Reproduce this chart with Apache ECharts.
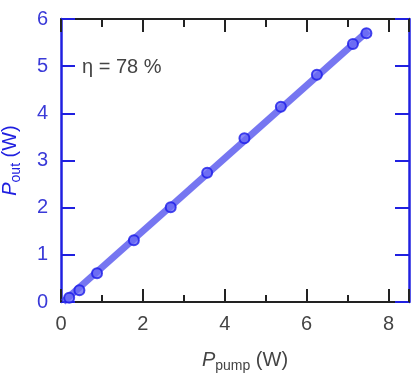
<!DOCTYPE html>
<html>
<head>
<meta charset="utf-8">
<script src="https://cdn.jsdelivr.net/npm/echarts@6/dist/echarts.min.js"></script>
<style>
  html, body { margin: 0; padding: 0; background: #fff; }
  #chart { width: 412px; height: 374px; }
</style>
</head>
<body>
<div id="chart"></div>
<script>
// measured points (pump power vs output power, W)
const pumpPower = [0.20, 0.45, 0.88, 1.78, 2.68, 3.57, 4.48, 5.37, 6.25, 7.13, 7.46];
const outPower = [0.09, 0.25, 0.61, 1.31, 2.01, 2.74, 3.47, 4.14, 4.82, 5.47, 5.70];
// linear fit end points
const fitX = [0.05, 7.5];
const fitY = [0.0, 5.75];
const xTicks = [0, 2, 4, 6, 8];
const yTicks = [0, 1, 2, 3, 4, 5, 6];
const slopeLabel = "η = 78 %";

const BLUE = "#2020e0";
const chart = echarts.init(document.getElementById("chart"));

const pts = pumpPower.map((x, i) => [x, outPower[i]]);
const fit = fitX.map((x, i) => [x, fitY[i]]);

const options = {
  animation: false,
  grid: { left: 61, right: 3, top: 19, bottom: 72, outerBoundsMode: "none", containLabel: false },
  xAxis: [
    {
      type: "value",
      min: 0,
      max: 8.5,
      interval: 2,
      position: "bottom",
      name: "{i|P}{sub|pump} (W)",
      nameLocation: "middle",
      nameGap: 45,
      nameTextStyle: {
        color: "#444",
        fontSize: 20,
        fontFamily: "Liberation Sans",
        padding: [0, 0, 0, 20],
        rich: {
          i: { fontStyle: "italic", fontSize: 20, color: "#444" },
          sub: { fontSize: 14, color: "#444", padding: [12, 0, 0, 0] },
        },
      },
      axisLine: { onZero: false, lineStyle: { color: "#222", width: 2 } },
      axisTick: { inside: true, length: 13, lineStyle: { color: "#222", width: 2 } },
      minorTick: { show: true, splitNumber: 2, length: 7, lineStyle: { color: "#222", width: 2 } },
      splitLine: { show: false },
      axisLabel: {
        color: "#444",
        fontSize: 20,
        fontFamily: "Liberation Sans",
        margin: 12,
        formatter: (v) => (xTicks.includes(v) ? String(v) : ""),
        showMaxLabel: false,
      },
    },
    {
      type: "value",
      min: 0,
      max: 8.5,
      interval: 2,
      position: "top",
      axisLine: { onZero: false, lineStyle: { color: "#222", width: 2 } },
      axisTick: { inside: true, length: 13, lineStyle: { color: "#222", width: 2 } },
      minorTick: { show: true, splitNumber: 2, length: 8, lineStyle: { color: "#222", width: 2 } },
      splitLine: { show: false },
      axisLabel: { show: false },
    },
  ],
  yAxis: [
    {
      type: "value",
      min: 0,
      max: 6,
      interval: 1,
      position: "left",
      name: "{i|P}{sub|out} (W)",
      nameLocation: "middle",
      nameGap: 38,
      nameRotate: 90,
      nameTextStyle: {
        color: BLUE,
        fontSize: 20,
        fontFamily: "Liberation Sans",
        rich: {
          i: { fontStyle: "italic", fontSize: 20, color: BLUE },
          sub: { fontSize: 14, color: BLUE, padding: [12, 0, 0, 0] },
        },
      },
      axisLine: { show: true, onZero: false, lineStyle: { color: BLUE, width: 2.5 } },
      axisTick: { show: true, inside: true, length: 14, lineStyle: { color: BLUE, width: 2 } },
      splitLine: { show: false },
      axisLabel: {
        color: "#3a3ad8",
        fontSize: 20,
        fontFamily: "Liberation Sans",
        margin: 13,
        formatter: (v) => (yTicks.includes(v) ? String(v) : ""),
      },
    },
    {
      type: "value",
      min: 0,
      max: 6,
      interval: 1,
      position: "right",
      axisLine: { show: true, onZero: false, lineStyle: { color: BLUE, width: 2.5 } },
      axisTick: { show: true, inside: true, length: 14, lineStyle: { color: BLUE, width: 2 } },
      splitLine: { show: false },
      axisLabel: { show: false },
    },
  ],
  graphic: [
    {
      type: "text",
      left: 82,
      top: 57,
      style: {
        text: slopeLabel,
        fill: "#444",
        font: "20px Liberation Sans",
      },
    },
  ],
  series: [
    {
      type: "line",
      data: fit,
      symbol: "none",
      lineStyle: { color: "rgba(60,60,235,0.7)", width: 7 },
      z: 2,
    },
    {
      type: "scatter",
      data: pts,
      symbol: "circle",
      symbolSize: 10,
      itemStyle: { color: "#6a6af5", borderColor: "#1c1ce8", borderWidth: 2 },
      z: 3,
    },
  ],
};

chart.setOption(options);
</script>
</body>
</html>
